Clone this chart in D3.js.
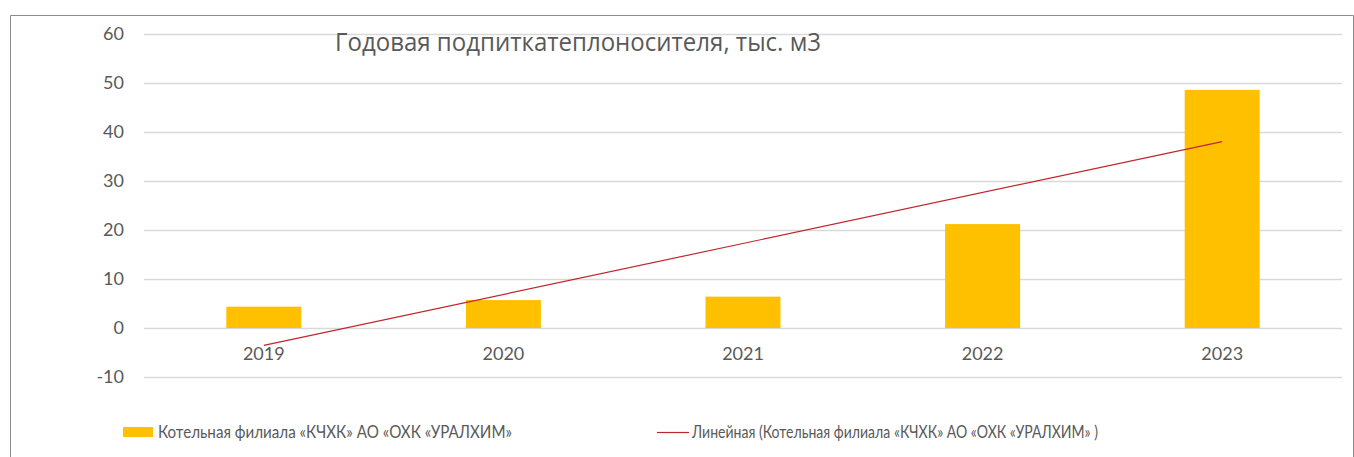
<!DOCTYPE html>
<html>
<head>
<meta charset="utf-8">
<script src="https://cdnjs.cloudflare.com/ajax/libs/d3/7.8.5/d3.min.js"></script>
<style>
  body { margin: 0; background: #fff; }
  svg text { font-family: Lato, "Open Sans", sans-serif; fill: #595959; }
</style>
</head>
<body>
<script>
// data
var years = ["2019", "2020", "2021", "2022", "2023"];
var values = [4.35, 5.7, 6.4, 21.2, 48.6];
var yTicks = [-10, 0, 10, 20, 30, 40, 50, 60];
var seriesName = "Котельная филиала «КЧХК» АО «ОХК «УРАЛХИМ»";
var trendName = "Линейная (Котельная филиала «КЧХК» АО «ОХК «УРАЛХИМ» )";
var title = "Годовая подпиткатеплоносителя, тыс. м3";

var width = 1354, height = 457;

var svg = d3.select("body").append("svg")
  .attr("width", width)
  .attr("height", height);

// chart frame
svg.append("path")
  .attr("d", "M10.5," + height + "V15.5H1353.5V" + height)
  .attr("fill", "none")
  .attr("stroke", "#8c8c8c")
  .attr("stroke-width", 1);

var x = d3.scaleBand()
  .domain(years)
  .range([144, 1342])
  .paddingInner(0.687)
  .paddingOuter(0.3435);

var y = d3.scaleLinear()
  .domain([-10, 60])
  .range([377, 34]);

// gridlines
svg.append("g")
  .selectAll("line")
  .data(yTicks)
  .enter().append("line")
  .attr("x1", 144).attr("x2", 1342)
  .attr("y1", function(d) { return Math.round(y(d)) + 0.5; })
  .attr("y2", function(d) { return Math.round(y(d)) + 0.5; })
  .attr("stroke", "#d9d9d9")
  .attr("stroke-width", 1.5);

// y axis labels
var yAxis = d3.axisLeft(y).tickValues(yTicks).tickSize(0).tickPadding(0)
  .tickFormat(function(d) { return String(d); });
var gy = svg.append("g").attr("transform", "translate(124,0)").call(yAxis);
gy.select(".domain").remove();
gy.selectAll("text").style("font-size", "18px").attr("fill", "#595959");

// bars
svg.append("g")
  .selectAll("rect")
  .data(values)
  .enter().append("rect")
  .attr("x", function(d, i) { return x(years[i]); })
  .attr("width", x.bandwidth())
  .attr("y", function(d) { return y(d); })
  .attr("height", function(d) { return y(0) - y(d); })
  .attr("fill", "#ffc000");

// category labels
var xAxis = d3.axisBottom(x).tickSize(0).tickPadding(0);
var gx = svg.append("g").attr("transform", "translate(0,347)").call(xAxis);
gx.select(".domain").remove();
gx.selectAll("text").style("font-size", "18px").attr("fill", "#595959");

// linear trend (least squares on the bar values)
var n = values.length;
var mx = d3.mean(values, function(d, i) { return i; });
var my = d3.mean(values);
var slope = d3.sum(values, function(d, i) { return (i - mx) * (d - my); }) /
            d3.sum(values, function(d, i) { return (i - mx) * (i - mx); });
var icpt = my - slope * mx;
var cx = function(i) { return x(years[i]) + x.bandwidth() / 2; };

svg.append("line")
  .attr("x1", cx(0)).attr("y1", y(icpt))
  .attr("x2", cx(n - 1)).attr("y2", y(icpt + slope * (n - 1)))
  .attr("stroke", "#c0262d")
  .attr("stroke-width", 1.2);

// title
svg.append("text")
  .attr("x", 335)
  .attr("y", 51)
  .style("font-size", "25px")
  .style("font-family", "'Open Sans', sans-serif")
  .attr("textLength", 486)
  .attr("lengthAdjust", "spacingAndGlyphs")
  .text(title);

// legend
var leg = svg.append("g");
leg.append("rect")
  .attr("x", 123).attr("y", 427)
  .attr("width", 30).attr("height", 10)
  .attr("fill", "#ffc000");
leg.append("text")
  .attr("x", 158).attr("y", 438)
  .style("font-size", "17px")
  .attr("textLength", 354)
  .attr("lengthAdjust", "spacingAndGlyphs")
  .text(seriesName);
leg.append("line")
  .attr("x1", 657).attr("x2", 689)
  .attr("y1", 432.5).attr("y2", 432.5)
  .attr("stroke", "#c0262d")
  .attr("stroke-width", 1.2);
leg.append("text")
  .attr("x", 692).attr("y", 438)
  .style("font-size", "17px")
  .attr("textLength", 406)
  .attr("lengthAdjust", "spacingAndGlyphs")
  .text(trendName);
</script>
</body>
</html>
